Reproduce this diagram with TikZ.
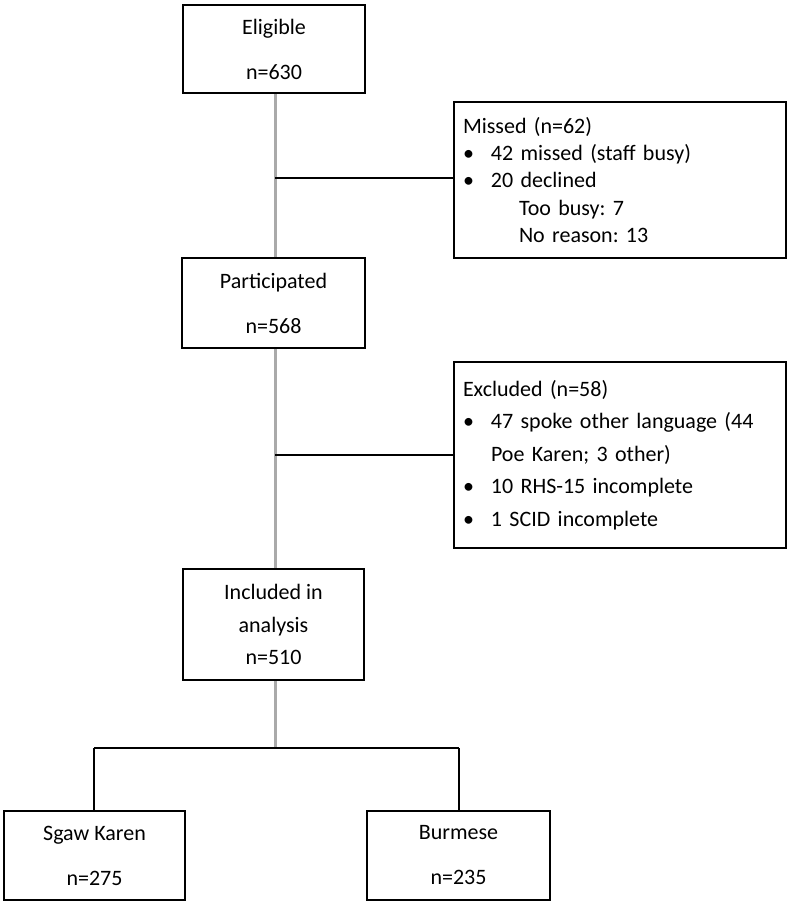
\documentclass[tikz,border=0pt]{standalone}
\usepackage{fontspec}
\setmainfont{Carlito}
\frenchspacing
\definecolor{spine}{RGB}{170,170,170}
\newcommand{\bl}{\makebox[28pt][l]{•}}
\begin{document}
\begin{tikzpicture}[x=1pt,y=-1pt,
  mainbox/.style={draw=black,line width=2.6pt,fill=white,align=center,inner sep=0pt,
    font=\fontsize{22}{45}\selectfont},
  sidebox/.style={draw=black,line width=2pt,fill=white,align=left,inner xsep=9pt,inner ysep=0pt,
    minimum width=332pt,text width=314pt},
  spineline/.style={draw=spine,line width=3pt},
  link/.style={draw=black,line width=1.4pt}]
\useasboundingbox (0,0) rectangle (790,905);
% main boxes
\node[mainbox,minimum width=182pt,minimum height=88pt] (elig) at (274,49) {Eligible\\n=630};
\node[mainbox,minimum width=183pt,minimum height=90pt] (part) at (273.5,303) {Participated\\n=568};
\node[mainbox,minimum width=181pt,minimum height=111pt,font=\fontsize{22}{32.5}\selectfont] (incl) at (273.5,624.5) {Included in\\analysis\\n=510};
\node[mainbox,minimum width=181pt,minimum height=89pt] (sgaw) at (94.5,855.5) {Sgaw Karen\\n=275};
\node[mainbox,minimum width=183pt,minimum height=89pt] (burm) at (458.5,855.5) {Burmese\\n=235};
% side boxes
\node[sidebox,minimum height=156pt,font=\fontsize{22}{27.2}\selectfont] (missed) at (620,180)
  {Missed (n=62)\\
   \bl 42 missed (staff busy)\\
   \bl 20 declined\\
   \hspace*{56pt}Too busy: 7\\
   \hspace*{56pt}No reason: 13};
\node[sidebox,minimum height=186pt,font=\fontsize{22}{32.5}\selectfont] (excl) at (620,455)
  {Excluded (n=58)\\
   \bl 47 spoke other language (44\\
   \hspace*{28pt}Poe Karen; 3 other)\\
   \bl 10 RHS-15 incomplete\\
   \bl 1 SCID incomplete};
% coordinates
\coordinate (j1) at (275,178);
\coordinate (j2) at (275,455);
\coordinate (j3) at (275,748);
\coordinate (bl) at (94,748);
\coordinate (br) at (459,748);
% spine
\draw[spineline] (elig.south -| j1) -- (part.north -| j1);
\draw[spineline] (part.south -| j1) -- (incl.north -| j1);
\draw[spineline] (incl.south -| j1) -- (j3);
% links
\draw[link] (j1) -- (missed.west |- j1);
\draw[link] (j2) -- (excl.west |- j2);
\draw[link] (bl) -- (br);
\draw[link] (bl) -- (sgaw.north -| bl);
\draw[link] (br) -- (burm.north -| br);
\end{tikzpicture}
\end{document}
